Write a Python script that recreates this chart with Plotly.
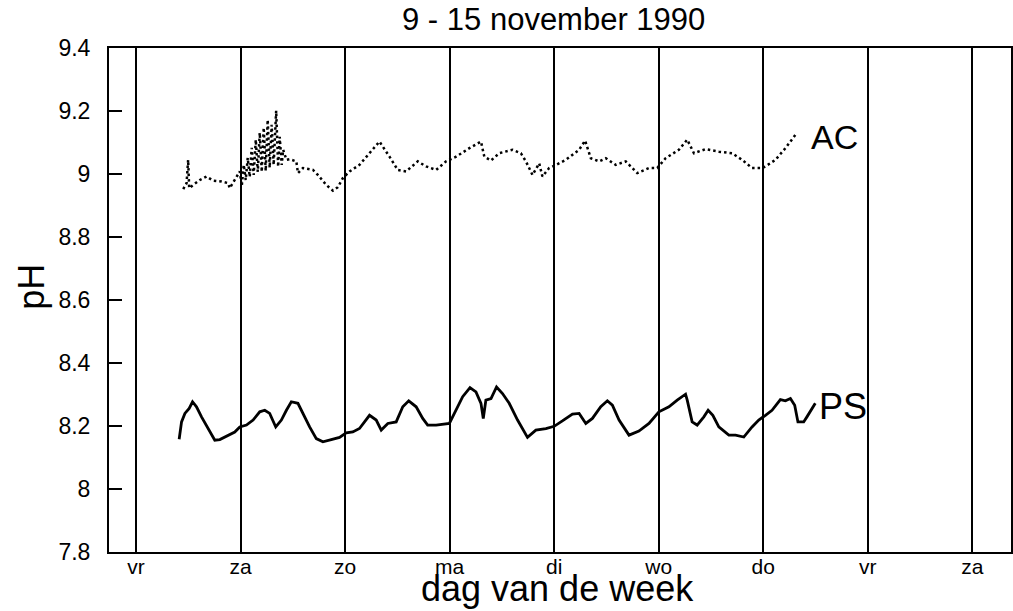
import plotly.graph_objects as go

# Day index 0 = vrijdag 9 november 1990 (midnight)
day_labels = ["vr", "za", "zo", "ma", "di", "wo", "do", "vr", "za"]
day_ticks = list(range(len(day_labels)))

# PS: continuous pH record
ps_day = [0.413, 0.436, 0.468, 0.509, 0.541, 0.579, 0.627, 0.690, 0.754, 0.802,
          0.866, 0.945, 0.993, 1.057, 1.120, 1.184, 1.232, 1.279, 1.337, 1.391,
          1.439, 1.486, 1.549, 1.597, 1.661, 1.725, 1.788, 1.868, 1.947, 2.011,
          2.074, 2.138, 2.234, 2.298, 2.346, 2.409, 2.489, 2.552, 2.609, 2.680,
          2.743, 2.790, 2.871, 2.998, 3.062, 3.125, 3.195, 3.252, 3.300, 3.322,
          3.347, 3.396, 3.449, 3.506, 3.570, 3.650, 3.745, 3.825, 3.921, 4.000,
          4.079, 4.175, 4.239, 4.303, 4.366, 4.446, 4.509, 4.557, 4.621, 4.716,
          4.811, 4.907, 5.002, 5.098, 5.177, 5.257, 5.273, 5.320, 5.368, 5.432,
          5.473, 5.518, 5.575, 5.671, 5.735, 5.814, 5.893, 5.957, 6.021, 6.084,
          6.164, 6.212, 6.260, 6.301, 6.332, 6.387, 6.418, 6.498]
ps_ph = [8.158, 8.213, 8.240, 8.256, 8.277, 8.261, 8.229, 8.192, 8.155, 8.157,
         8.168, 8.181, 8.197, 8.203, 8.219, 8.245, 8.250, 8.240, 8.197, 8.219,
         8.250, 8.277, 8.272, 8.240, 8.197, 8.160, 8.150, 8.157, 8.164, 8.178,
         8.181, 8.192, 8.234, 8.219, 8.187, 8.208, 8.213, 8.261, 8.280, 8.261,
         8.224, 8.203, 8.203, 8.208, 8.250, 8.293, 8.322, 8.308, 8.272, 8.224,
         8.282, 8.287, 8.324, 8.303, 8.272, 8.219, 8.164, 8.187, 8.192, 8.199,
         8.216, 8.238, 8.240, 8.208, 8.224, 8.261, 8.280, 8.266, 8.219, 8.171,
         8.184, 8.208, 8.245, 8.261, 8.282, 8.301, 8.282, 8.213, 8.203, 8.229,
         8.250, 8.234, 8.197, 8.171, 8.171, 8.165, 8.197, 8.219, 8.234, 8.250,
         8.284, 8.280, 8.287, 8.266, 8.213, 8.213, 8.229, 8.272]

# AC: dotted pH record
ac_day = [0.452, 0.484, 0.499, 0.509, 0.547, 0.611, 0.675, 0.738, 0.818, 0.881,
          0.897, 0.945, 0.993, 1.012, 1.031, 1.050, 1.069, 1.088, 1.107, 1.126,
          1.146, 1.165, 1.184, 1.203, 1.222, 1.241, 1.260, 1.279, 1.298, 1.317,
          1.341, 1.360, 1.375, 1.394, 1.408, 1.439, 1.470, 1.534, 1.549, 1.597,
          1.693, 1.740, 1.821, 1.884, 1.931, 1.979, 2.043, 2.138, 2.234, 2.329,
          2.425, 2.504, 2.584, 2.695, 2.775, 2.871, 2.966, 3.062, 3.189, 3.300,
          3.332, 3.396, 3.475, 3.602, 3.682, 3.730, 3.793, 3.857, 3.888, 3.952,
          4.000, 4.112, 4.239, 4.296, 4.351, 4.430, 4.494, 4.589, 4.685, 4.795,
          4.907, 4.986, 5.066, 5.193, 5.273, 5.337, 5.449, 5.575, 5.702, 5.798,
          5.893, 5.989, 6.021, 6.117, 6.212, 6.275, 6.307]
ac_ph = [8.952, 8.971, 9.045, 8.955, 8.965, 8.981, 8.992, 8.979, 8.976, 8.971,
         8.955, 8.981, 9.008, 8.962, 9.029, 8.981, 9.051, 8.991, 9.083, 8.997,
         9.109, 9.007, 9.131, 9.007, 9.147, 9.010, 9.172, 9.020, 9.156, 9.029,
         9.201, 9.023, 9.118, 9.029, 9.077, 9.045, 9.047, 9.040, 9.003, 9.019,
         9.013, 8.997, 8.965, 8.947, 8.958, 8.987, 9.008, 9.029, 9.066, 9.103,
         9.055, 9.013, 9.008, 9.040, 9.024, 9.013, 9.040, 9.055, 9.082, 9.103,
         9.055, 9.043, 9.066, 9.077, 9.066, 9.040, 8.997, 9.034, 8.992, 9.019,
         9.026, 9.045, 9.077, 9.106, 9.050, 9.040, 9.050, 9.029, 9.040, 9.003,
         9.019, 9.019, 9.050, 9.077, 9.109, 9.066, 9.079, 9.071, 9.066, 9.045,
         9.019, 9.019, 9.024, 9.045, 9.082, 9.109, 9.124]

ph_ticks = [7.8, 8.0, 8.2, 8.4, 8.6, 8.8, 9.0, 9.2, 9.4]
ph_labels = ["7.8", "8", "8.2", "8.4", "8.6", "8.8", "9", "9.2", "9.4"]

FONT = "Liberation Sans, Arial, Helvetica, sans-serif"

fig = go.Figure()
fig.add_trace(go.Scatter(x=ac_day, y=ac_ph, mode="lines", name="AC",
                         line=dict(color="black", width=2.5, dash="2.5px,3px")))
fig.add_trace(go.Scatter(x=ps_day, y=ps_ph, mode="lines", name="PS",
                         line=dict(color="black", width=2.8)))

fig.add_annotation(x=6.683, y=9.116, text="AC", showarrow=False,
                   xanchor="center", yanchor="middle",
                   font=dict(size=34, color="black", family=FONT))
fig.add_annotation(x=6.759, y=8.263, text="PS", showarrow=False,
                   xanchor="center", yanchor="middle",
                   font=dict(size=36, color="black", family=FONT))

fig.add_annotation(xref="paper", yref="paper", x=0.497, y=-0.073,
                   text="dag van de week", showarrow=False,
                   xanchor="center", yanchor="middle",
                   font=dict(size=36, color="black", family=FONT))
fig.add_annotation(xref="paper", yref="paper", x=-0.086, y=0.527,
                   text="pH", showarrow=False, textangle=-90,
                   xanchor="center", yanchor="middle",
                   font=dict(size=36, color="black", family=FONT))

fig.update_layout(
    width=1013, height=611,
    margin=dict(l=109, r=0, t=48, b=59),
    paper_bgcolor="white", plot_bgcolor="white",
    showlegend=False,
    font=dict(family=FONT, color="black"),
    title=dict(text="9 - 15 november 1990", xref="paper", x=0.493,
               yref="container", y=0.969, xanchor="center", yanchor="middle",
               font=dict(size=31, color="black", family=FONT)),
    xaxis=dict(range=[-0.258, 8.37], tickvals=day_ticks, ticktext=day_labels,
               showgrid=True, gridcolor="black", gridwidth=1.8,
               zeroline=False, showline=True, linecolor="black", linewidth=2,
               mirror=True, ticks="", ticklabelstandoff=-5,
               tickfont=dict(size=21, color="black")),
    yaxis=dict(range=[7.8, 9.4], tickvals=ph_ticks, ticktext=ph_labels,
               showgrid=False, zeroline=False, showline=True,
               linecolor="black", linewidth=2, mirror=True,
               ticks="inside", ticklen=13, tickwidth=2, tickcolor="black",
               ticklabelstandoff=12, tickfont=dict(size=23, color="black")),
)

fig.write_html("out.html")
